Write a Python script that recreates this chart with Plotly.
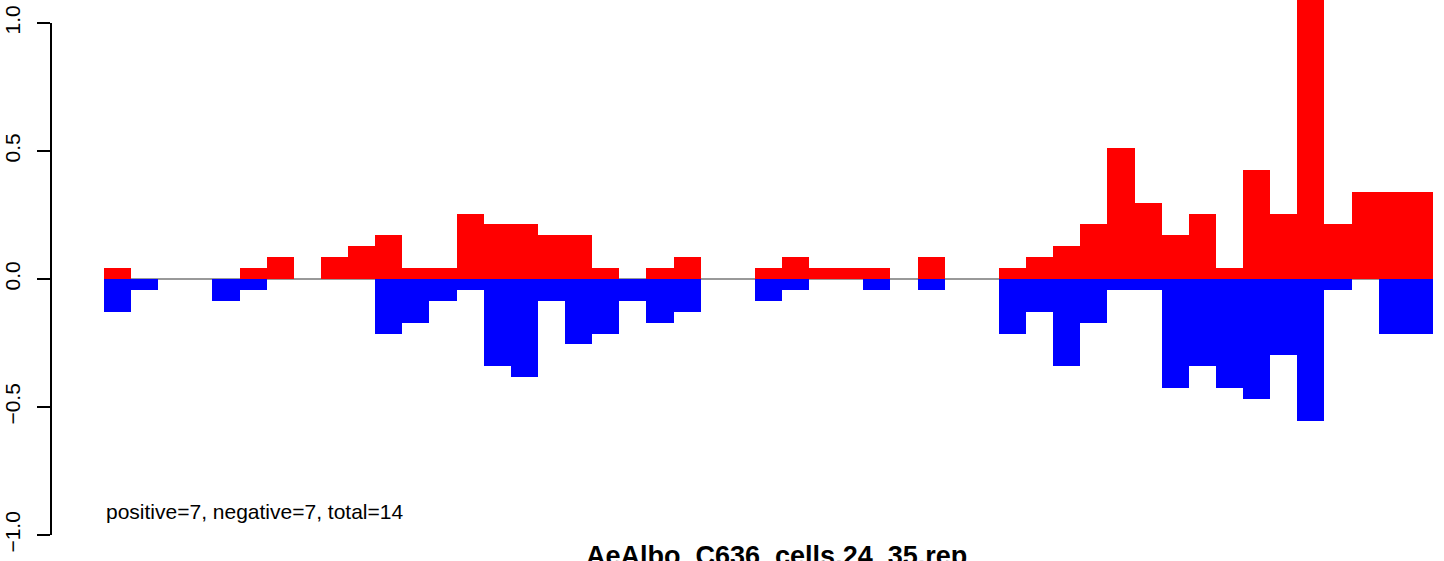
import plotly.graph_objects as go

# bin positions (no x labels shown in the reference)
bins = list(range(49))

positive = [0.043, 0, 0, 0, 0, 0.043, 0.085, 0, 0.085, 0.128,
            0.17, 0.043, 0.043, 0.255, 0.213, 0.213, 0.17, 0.17, 0.043, 0,
            0.043, 0.085, 0, 0, 0.043, 0.085, 0.043, 0.043, 0.043, 0,
            0.085, 0, 0, 0.043, 0.085, 0.128, 0.213, 0.51, 0.298, 0.17,
            0.255, 0.043, 0.425, 0.255, 1.2, 0.213, 0.34, 0.34, 0.34]

negative = [-0.128, -0.043, 0, 0, -0.085, -0.043, 0, 0, 0, 0,
            -0.213, -0.17, -0.085, -0.043, -0.34, -0.383, -0.085, -0.255, -0.213, -0.085,
            -0.17, -0.128, 0, 0, -0.085, -0.043, 0, 0, -0.043, 0,
            -0.043, 0, 0, -0.213, -0.128, -0.34, -0.17, -0.043, -0.043, -0.425,
            -0.34, -0.425, -0.468, -0.298, -0.553, -0.043, 0, -0.213, -0.213]

tick_vals = [-1.0, -0.5, 0.0, 0.5, 1.0]
tick_text = ["\u22121.0", "\u22120.5", "0.0", "0.5", "1.0"]

title_text = "AeAlbo_C636_cells.24_35.rep"
note_text = "positive=7, negative=7, total=14"

FONT = "Liberation Sans, Arial, sans-serif"

fig = go.Figure()
fig.add_trace(go.Bar(x=bins, y=positive, width=1, marker=dict(color="#FF0000", line=dict(width=0)),
                     showlegend=False, hoverinfo="y"))
fig.add_trace(go.Bar(x=bins, y=negative, width=1, marker=dict(color="#0000FF", line=dict(width=0)),
                     showlegend=False, hoverinfo="y"))

# zero baseline (gray), drawn under the bars
fig.add_shape(type="line", xref="x", yref="y", x0=-0.5, x1=48.5, y0=0, y1=0,
              line=dict(color="#999999", width=2), layer="below")

# R-style y axis line spanning only -1..1
fig.add_shape(type="line", xref="paper", yref="y", x0=0, x1=0, y0=-1, y1=1,
              line=dict(color="black", width=2))

fig.add_annotation(text=note_text, xref="x", yref="y", x=-0.5, y=-0.91,
                   xanchor="left", yanchor="middle", showarrow=False,
                   font=dict(family=FONT, size=21, color="black"))
fig.add_annotation(text="<b>" + title_text + "</b>", xref="paper", yref="paper",
                   x=0.5205, y=-0.001, xanchor="center", yanchor="middle", showarrow=False,
                   font=dict(family=FONT, size=27, color="black"))

ymax = 279 / 256
ymin = ymax - 555 / 256

fig.update_layout(
    width=1444, height=561,
    margin=dict(l=51, r=0, t=0, b=6, autoexpand=False),
    paper_bgcolor="white", plot_bgcolor="white",
    barmode="relative", bargap=0,
    xaxis=dict(range=[-2.454, 48.91], showgrid=False, zeroline=False,
               showticklabels=False, ticks="", showline=False, automargin=False),
    yaxis=dict(range=[ymin, ymax], showgrid=False, zeroline=False, showline=False,
               automargin=False,
               tickmode="array", tickvals=tick_vals, ticktext=tick_text,
               ticks="outside", ticklen=13, tickwidth=2, tickcolor="black",
               ticklabelstandoff=9,
               tickangle=-90, tickfont=dict(family=FONT, size=21, color="black")),
)

fig.write_html("out.html", config={"displayModeBar": False},
               post_script="document.body.style.margin='0';document.body.style.padding='0';")
